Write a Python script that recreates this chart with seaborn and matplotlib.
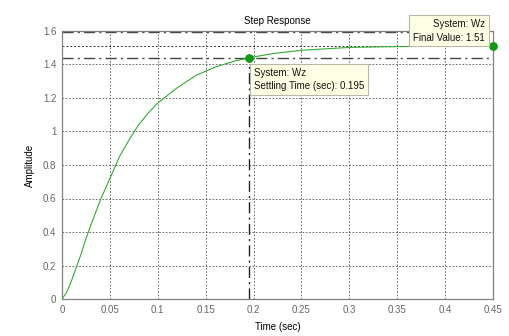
import numpy as np
import pandas as pd
import matplotlib
matplotlib.use("Agg")
import matplotlib.pyplot as plt
import seaborn as sns

# Data
time_s = [0, 0.005, 0.01, 0.015, 0.02, 0.025, 0.03, 0.04, 0.05, 0.06, 0.07, 0.08,
          0.09, 0.1, 0.12, 0.14, 0.16, 0.18, 0.195, 0.22, 0.25, 0.3, 0.35, 0.4, 0.45]
amplitude = [0, 0.04, 0.11, 0.19, 0.27, 0.36, 0.44, 0.59, 0.72, 0.85, 0.95, 1.04,
             1.11, 1.17, 1.26, 1.335, 1.385, 1.42, 1.44, 1.465, 1.485, 1.502, 1.507, 1.509, 1.51]
settling_time = 0.195
settling_value = 1.44
final_value = 1.51
upper_bound = 1.595
x_ticks = [0, 0.05, 0.1, 0.15, 0.2, 0.25, 0.3, 0.35, 0.4, 0.45]
x_tick_labels = ["0", "0.05", "0.1", "0.15", "0.2", "0.25", "0.3", "0.35", "0.4", "0.45"]
y_ticks = [0, 0.2, 0.4, 0.6, 0.8, 1.0, 1.2, 1.4, 1.6]
y_tick_labels = ["0", "0.2", "0.4", "0.6", "0.8", "1", "1.2", "1.4", "1.6"]

sns.set_theme(style="white")
plt.rcParams['font.family'] = ['Liberation Sans', 'DejaVu Sans']

df = pd.DataFrame({"Time (sec)": time_s, "Amplitude": amplitude})

fig = plt.figure(figsize=(5.1, 3.36), dpi=100)
fig.patch.set_facecolor("white")
ax = fig.add_axes([62/510, 1 - 299/336, (493-62)/510, (299-31)/336])

grid_ls = (0, (2.0, 2.0))
for xt in x_ticks[1:-1]:
    ax.axvline(xt, color="#555555", lw=0.6, ls=grid_ls, zorder=1)
for yt in y_ticks[1:-1]:
    ax.axhline(yt, color="#555555", lw=0.6, ls=grid_ls, zorder=1)

# settling / final value reference lines
ax.axhline(final_value, color="#333333", lw=0.7, ls=(0, (2.0, 2.0)), zorder=2)
ax.axhline(settling_value, color="#444444", lw=1.0, ls=(0, (8, 3, 1.5, 3)), zorder=2)
ax.axhline(upper_bound, color="#444444", lw=1.0, ls=(0, (8, 3, 1.5, 3)), zorder=2)
ax.plot([settling_time, settling_time], [0, settling_value], color="#222222", lw=1.0,
        ls=(0, (8, 3, 1.5, 3)), zorder=2)

sns.lineplot(data=df, x="Time (sec)", y="Amplitude", ax=ax, color="#33aa33",
             lw=0.8, zorder=3, estimator=None, sort=False)
ax.scatter([settling_time, time_s[-1]], [settling_value, final_value], s=28,
           color="#119911", zorder=5, clip_on=False)

ax.set_xlim(0, 0.45)
ax.set_ylim(0, 1.6)
ax.set_xticks(x_ticks)
ax.set_xticklabels(x_tick_labels)
ax.set_yticks(y_ticks)
ax.set_yticklabels(y_tick_labels)
ax.tick_params(axis="both", direction="in", length=3, width=0.6, colors="#777777",
               labelsize=7, labelcolor="#666666", pad=4)
for sp in ax.spines.values():
    sp.set_color("#808080")
    sp.set_linewidth(0.9)

ax.set_title("Step Response", fontsize=7, color="black", pad=5)
ax.set_xlabel("Time (sec)", fontsize=7, color="black", labelpad=5)
ax.set_ylabel("Amplitude", fontsize=7, color="black", labelpad=6)

box = dict(boxstyle="square,pad=0.4", fc="#ffffe6", ec="#b8b8a8", lw=0.8)
ax.text(0.4415, 1.6 + (31 - 19) / 167.5, "System: Wz\nFinal Value: 1.51", ha="right", va="top",
        fontsize=7, color="#111111", bbox=box, zorder=6, linespacing=1.45, clip_on=False)
ax.text(0.2005, settling_value - 0.06, "System: Wz\nSettling Time (sec): 0.195", ha="left", va="top",
        fontsize=7, color="#111111", bbox=box, zorder=6, linespacing=1.45)

fig.savefig("out.png", dpi=100, facecolor="white")
